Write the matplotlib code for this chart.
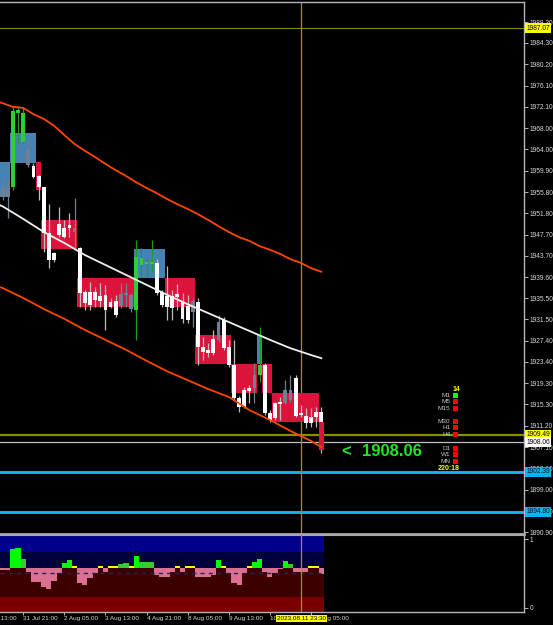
import matplotlib
matplotlib.use("Agg")
import matplotlib.pyplot as plt
from matplotlib.patches import Rectangle

plt.rcParams['font.family'] = ['Liberation Sans', 'DejaVu Sans']

# ---------------- DATA ----------------
# H4 bars, index 0 = 31 Jul 21:00
bars = list(range(-4, 59))
opens = [1954.9, 1954.9, 1956.8, 1970.9, 1970.9, 1961.0, 1960.8, 1958.9, 1956.8, 1948.0,
         1944.2, 1949.7, 1948.9, 1949.5, 1948.2, 1945.1, 1936.7, 1936.7, 1936.7, 1936.0,
         1936.2, 1934.8, 1935.0, 1934.1, 1936.2, 1933.5, 1933.3, 1941.9, 1942.1, 1942.1,
         1942.3, 1936.7, 1936.0, 1936.0, 1936.4, 1934.8, 1934.1, 1932.9, 1934.8, 1926.2,
         1925.7, 1927.8, 1927.6, 1931.4, 1926.2, 1922.8, 1916.5, 1918.0, 1918.4, 1918.4,
         1920.9, 1922.8, 1913.6, 1915.5, 1915.7, 1915.5, 1916.1, 1920.3, 1913.6, 1913.1,
         1912.9, 1913.8, 1913.8]
highs = [1958.1, 1958.1, 1972.1, 1972.3, 1971.9, 1965.8, 1961.4, 1959.1, 1956.8, 1953.5,
         1944.4, 1953.0, 1950.5, 1951.8, 1954.7, 1945.3, 1937.1, 1938.6, 1937.7, 1938.5,
         1938.1, 1935.6, 1936.2, 1938.5, 1938.5, 1936.5, 1946.7, 1945.1, 1943.2, 1946.7,
         1943.0, 1937.1, 1941.7, 1937.1, 1938.3, 1936.5, 1936.2, 1935.6, 1935.6, 1928.1,
         1927.0, 1929.5, 1932.3, 1932.0, 1927.6, 1927.6, 1916.9, 1918.6, 1919.0, 1923.2,
         1930.1, 1923.2, 1914.2, 1915.7, 1916.7, 1919.9, 1920.9, 1920.9, 1915.2, 1914.6,
         1914.6, 1914.8, 1914.8]
lows = [1954.3, 1950.9, 1956.2, 1965.4, 1965.2, 1960.6, 1958.5, 1954.3, 1944.4, 1941.3,
        1942.5, 1947.2, 1947.0, 1947.2, 1945.1, 1933.9, 1933.3, 1933.3, 1933.9, 1933.9,
        1929.5, 1933.7, 1932.0, 1933.7, 1933.9, 1932.9, 1927.6, 1939.6, 1939.6, 1940.6,
        1936.2, 1933.9, 1931.4, 1931.4, 1933.3, 1930.8, 1930.8, 1930.1, 1922.8, 1923.7,
        1924.3, 1924.7, 1927.2, 1925.7, 1922.4, 1916.1, 1913.8, 1914.6, 1915.5, 1915.5,
        1919.5, 1913.2, 1911.9, 1912.3, 1912.3, 1915.3, 1915.7, 1912.9, 1912.9, 1910.8,
        1911.0, 1911.0, 1906.0]
closes = [1956.6, 1956.8, 1971.3, 1971.5, 1965.4, 1963.9, 1958.7, 1956.8, 1948.0, 1942.8,
          1942.8, 1947.6, 1947.2, 1949.0, 1949.0, 1936.5, 1934.6, 1934.3, 1935.2, 1935.0,
          1933.3, 1933.9, 1932.3, 1936.4, 1936.5, 1936.2, 1943.4, 1943.2, 1942.5, 1942.5,
          1936.5, 1934.3, 1933.9, 1933.7, 1935.8, 1931.6, 1931.4, 1935.0, 1926.2, 1925.3,
          1925.1, 1925.1, 1931.0, 1926.0, 1922.8, 1916.5, 1914.8, 1914.8, 1917.8, 1920.9,
          1922.8, 1913.6, 1912.3, 1912.7, 1915.3, 1918.0, 1918.0, 1913.1, 1913.2, 1911.7,
          1911.7, 1912.9, 1908.06]
candle_kind = ['g', 'g', 'G', 'G', 'G', 'g', 'w', 'w', 'w', 'w',
               'w', 'w', 'w', 'w', 'g', 'w', 'w', 'w', 'w', 'w',
               'w', 'w', 'w', 'g', 'g', 'g', 'G', 'G', 'G', 'G',
               'w', 'w', 'w', 'w', 'w', 'w', 'w', 'g', 'w', 'w',
               'w', 'w', 'g', 'w', 'w', 'w', 'w', 'w', 'w', 'g',
               'G', 'w', 'w', 'w', 'w', 'g', 'g', 'w', 'w', 'w',
               'w', 'w', 'w']

# box overlay (start bar, end bar, top, bottom, direction)
box_start = [-6, -2, 3, 4, 11, 22, 28, 34, 41, 46, 47, 49, 58]
box_end = [-3, 2, 3, 10, 21, 27, 33, 40, 45, 46, 48, 57, 58]
box_top = [1961.56, 1967.10, 1961.56, 1950.48, 1939.40, 1944.94, 1939.40, 1928.52,
           1922.98, 1928.52, 1922.98, 1917.44, 1911.90]
box_bottom = [1954.88, 1961.37, 1956.22, 1944.94, 1933.87, 1939.40, 1933.87, 1922.98,
              1917.44, 1922.98, 1917.44, 1911.90, 1906.55]
box_dir = ['up', 'up', 'down', 'down', 'down', 'up', 'down', 'down',
           'down', 'up', 'down', 'down', 'down']

# channel lines
upper_bars = [-5, -4, -2, 0, 2, 4, 6, 8, 10, 12, 14, 16, 18, 20, 22, 24, 26, 28, 30, 32,
              34, 36, 38, 40, 42, 44, 46, 48, 50, 52, 54, 56, 58]
upper_vals = [1973.1, 1972.8, 1972.1, 1971.9, 1970.7, 1969.8, 1968.5, 1966.7, 1965.0,
              1963.7, 1962.5, 1961.2, 1960.0, 1958.9, 1957.7, 1956.6, 1955.6, 1954.5,
              1953.5, 1952.6, 1951.6, 1950.5, 1949.3, 1948.2, 1947.2, 1946.5, 1945.5,
              1944.8, 1944.0, 1943.0, 1942.3, 1941.3, 1940.6]
lower_bars = [-5, -4, 0, 4, 8, 12, 16, 20, 24, 28, 32, 36, 40, 44, 48, 52, 56, 58]
lower_vals = [1937.8, 1937.5, 1935.6, 1933.5, 1931.6, 1929.5, 1927.6, 1925.7, 1923.6,
              1921.6, 1919.9, 1918.2, 1916.7, 1914.2, 1912.3, 1910.2, 1908.3, 1907.1]
mid_bars = [-5, -4, 0, 4, 8, 12, 16, 20, 24, 28, 32, 36, 40, 44, 48, 52, 56, 58]
mid_vals = [1953.5, 1953.1, 1950.7, 1948.2, 1946.1, 1943.8, 1941.9, 1940.0, 1938.1,
            1936.2, 1934.4, 1932.7, 1931.0, 1929.3, 1927.6, 1926.0, 1924.7, 1924.1]

# horizontal levels
day_high = 1987.07
level_olive = 1909.49
bid = 1908.06
blue_levels = [1902.39, 1894.80]

# price scale labels
ytick_labels = ['1890.90', '1894.90', '1899.00', '1903.10', '1907.10', '1911.20', '1915.30',
                '1919.30', '1923.40', '1927.40', '1931.50', '1935.50', '1939.60', '1943.70',
                '1947.70', '1951.80', '1955.80', '1959.90', '1964.00', '1968.00', '1972.10',
                '1976.10', '1980.20', '1984.30', '1988.30']

# time axis
time_ticks = [-8, 0, 8, 16, 24, 32, 40, 48, 56]
time_labels = ['28 Jul 13:00', '31 Jul 21:00', '2 Aug 05:00', '3 Aug 13:00', '4 Aug 21:00',
               '8 Aug 05:00', '9 Aug 13:00', '10 Aug 21:00', '14 Aug 05:00']
cursor_bar = 54
cursor_minutes_into_bar = 150   # 23:30 within the 21:00 H4 bar
cursor_label = '2023.08.11 23:30'

# indicator histogram (relative to base level)
hist_vals = [-0.036, -0.036, 0.268, 0.283, 0.123, -0.065, -0.210, -0.210, -0.283, -0.312,
             -0.196, -0.080, 0.065, 0.109, 0.0, -0.225, -0.254, -0.152, -0.080, 0.0,
             -0.065, 0.0, 0.0, 0.051, 0.065, 0.0, 0.167, 0.080, 0.080, 0.080,
             -0.109, -0.138, -0.138, -0.065, 0.0, -0.065, 0.0, 0.0, -0.138, -0.138,
             -0.138, -0.109, 0.109, 0.0, -0.080, -0.225, -0.254, -0.080, 0.0, 0.080,
             0.123, -0.065, -0.138, -0.080, -0.022, 0.094, 0.051, -0.065, -0.065, -0.065,
             0.0, 0.0, -0.094]
hist_kind = ['P', 'P', 'L', 'L', 'G', 'P', 'P', 'P', 'P', 'P',
             'P', 'P', 'L', 'L', 'Y', 'P', 'P', 'P', 'P', 'Y',
             'P', 'Y', 'Y', 'G', 'G', 'Y', 'L', 'G', 'G', 'G',
             'P', 'P', 'P', 'P', 'Y', 'P', 'Y', 'Y', 'P', 'P',
             'P', 'P', 'L', 'Y', 'P', 'P', 'P', 'P', 'Y', 'L',
             'L', 'P', 'P', 'P', 'P', 'L', 'G', 'P', 'P', 'P',
             'Y', 'Y', 'P']
hist_base = 0.585
band_levels = [1.058, 0.812, 0.585, 0.159, -0.058]
band_colors = ['#00008C', '#00003C', '#3C0000', '#780000']
dash_level = 0.507

# timeframe panel
tf_labels = ['M1', 'M5', 'M15', 'M30', 'H1', 'H4', 'D1', 'W1', 'MN']
tf_status = [1, 0, 0, 0, 0, 0, 0, 0, 0]
tf_top = '14'
tf_bottom = '220:18'

# ---------------- FIGURE ----------------
W, H = 553, 625
fig = plt.figure(figsize=(W / 100, H / 100), dpi=100, facecolor='black')


def fx(px):
    return px / W


def fy(py):
    return 1 - py / H


ax = fig.add_axes([0, fy(534), fx(524), (534 - 2) / H], facecolor='black')
axi = fig.add_axes([0, fy(612), fx(524), (612 - 535) / H], facecolor='black')

x_left, x_right = -4.51, 97.43
for a in (ax, axi):
    a.set_xlim(x_left, x_right)
ax.set_ylim(1890.52, 1992.12)
axi.set_ylim(band_levels[-1], band_levels[0])

# boxes
for s, e, t, b, d in zip(box_start, box_end, box_top, box_bottom, box_dir):
    col = '#4682B4' if d == 'up' else '#DC143C'
    z = 2.6 if e == bars[-1] else 1
    ax.add_patch(Rectangle((s - 0.5, b), e - s + 1, t - b, fc=col, ec='none', zorder=z))

# candles
style = {'w': ('#FFFFFF', '#BEBEBE'), 'g': ('#708090', '#708090'), 'G': ('#32CD32', '#1E9E1E')}
bw = 0.74
for k, o, h, l, c, kind in zip(bars, opens, highs, lows, closes, candle_kind):
    body_c, wick_c = style[kind]
    ax.vlines(k, l, h, colors=wick_c, lw=0.9, zorder=2)
    lo, hi = min(o, c), max(o, c)
    ax.add_patch(Rectangle((k - bw / 2, lo), bw, max(hi - lo, 0.22), fc=body_c, ec='none', zorder=2.2))

# channel lines
ax.plot(upper_bars, upper_vals, color='#FF4500', lw=1.3, zorder=3)
ax.plot(lower_bars, lower_vals, color='#FF4500', lw=1.3, zorder=3)
ax.plot(mid_bars, mid_vals, color='#F0F0F0', lw=1.3, zorder=3)

# horizontal levels
ax.axhline(day_high, color='#8C8C00', lw=0.8, zorder=0.5)
ax.axhline(level_olive, color='#8C8C00', lw=1.6, zorder=0.5)
ax.axhline(bid, color='#C0C0C0', lw=0.9, zorder=0.5)
for lv in blue_levels:
    ax.axhline(lv, color='#0AB4F0', lw=2.1, zorder=0.5)

# cursor
cursor_x = cursor_bar - 0.5 + cursor_minutes_into_bar / 240
ax.axvline(cursor_x, color='#9B9B00', lw=0.9, zorder=0.6)
axi.axvline(cursor_x, color='#9B9B00', lw=0.9, zorder=5)

# price axis
ax.yaxis.tick_right()
ax.set_yticks([float(s) for s in ytick_labels])
ax.set_yticklabels(ytick_labels)
ax.tick_params(axis='y', colors='#B4B4B4', labelcolor='#D8D8D8', length=3, width=0.7,
               labelsize=4.8, pad=1.2)
ax.set_xticks([])
ax.spines['left'].set_visible(False)
ax.spines['top'].set_color('#B4B4B4')
ax.spines['top'].set_linewidth(1)
ax.spines['right'].set_color('#B4B4B4')
ax.spines['right'].set_linewidth(1)
ax.spines['bottom'].set_color('#A8A8A8')
ax.spines['bottom'].set_linewidth(2)

# price label boxes
ytr = ax.get_yaxis_transform()
box_labels = [(day_high, '#FFFF00', 'black'), (level_olive, '#FFFF00', 'black'),
              (bid, '#FFFFFF', 'black'), (blue_levels[0], '#0AB4F0', '#001030'),
              (blue_levels[1], '#0AB4F0', '#001030')]
for val, fc, tc in box_labels:
    ax.text(1.004, val, f'{val:.2f}', transform=ytr, ha='left', va='center', fontsize=4.8,
            color=tc, clip_on=False, zorder=10,
            bbox=dict(boxstyle='square,pad=0.22', fc=fc, ec='none'))

# indicator panel
last = bars[-1] + 0.5
for i, col in enumerate(band_colors):
    axi.add_patch(Rectangle((x_left, band_levels[i + 1]), last - x_left,
                            band_levels[i] - band_levels[i + 1], fc=col, ec='none', zorder=0.5))
hcol = {'P': '#DB7093', 'L': '#00FF00', 'G': '#32CD32', 'Y': '#FFFF00'}
for k, v, kind in zip(bars, hist_vals, hist_kind):
    if kind == 'Y':
        axi.add_patch(Rectangle((k - 0.5, hist_base - 0.012), 1.0, 0.034, fc=hcol['Y'],
                                ec='none', zorder=2))
    else:
        axi.add_patch(Rectangle((k - 0.5, hist_base), 1.0, v, fc=hcol[kind], ec='none', zorder=2))
axi.hlines(dash_level, x_left, last, colors='#26264E', linestyles=(0, (3, 3)), lw=1.0, zorder=3)

axi.yaxis.tick_right()
axi.set_yticks([0, 1])
axi.set_yticklabels(['0', '1'])
axi.tick_params(axis='y', colors='#B4B4B4', labelcolor='#D8D8D8', length=3, width=0.7,
                labelsize=4.8, pad=1.2)
axi.set_xticks([t for t in time_ticks if x_left <= t <= x_right])
axi.set_xticklabels([])
axi.tick_params(axis='x', colors='#B4B4B4', length=2, width=0.7)
for t, lab in zip(time_ticks, time_labels):
    axi.annotate(lab, xy=(t, 0), xycoords=('data', 'axes fraction'), xytext=(0, -2.6),
                 textcoords='offset points', ha='left', va='top', fontsize=4.6,
                 color='#D8D8D8', annotation_clip=False)
axi.spines['left'].set_visible(False)
axi.spines['top'].set_color('#A8A8A8')
for sp in ('right', 'bottom'):
    axi.spines[sp].set_color('#B4B4B4')
    axi.spines[sp].set_linewidth(1)

# cursor time label
fig.text(fx(301.5), fy(618.5), cursor_label, ha='center', va='center', fontsize=4.6,
         color='black', bbox=dict(boxstyle='square,pad=0.2', fc='#FFFF00', ec='none'))

# big bid text
fig.text(fx(341), fy(452), '<', ha='left', va='center', fontsize=12, fontweight='bold',
         color='#22E622')
fig.text(fx(362), fy(452), f'{bid:.2f}', ha='left', va='center', fontsize=12,
         fontweight='bold', color='#22E622')

# timeframe status panel
fig.text(fx(456), fy(389.5), tf_top, ha='center', va='center', fontsize=5,
         fontweight='bold', color='#FFFF00')
row_y = []
for g, start in enumerate([395.5, 421.5, 448.5]):
    for r in range(3):
        row_y.append(start + r * 6.4)
for lab, st, yy in zip(tf_labels, tf_status, row_y):
    fig.text(fx(450.5), fy(yy), lab, ha='right', va='center', fontsize=4.6, color='#C8C8C8')
    fig.patches.append(Rectangle((fx(453), fy(yy + 2.5)), 5 / W, 5 / H,
                                 transform=fig.transFigure, fc='#00FF00' if st else '#FF0000',
                                 ec='none'))
fig.text(fx(448.5), fy(468), tf_bottom, ha='center', va='center', fontsize=5,
         fontweight='bold', color='#FFFF00')

fig.savefig('out.png', dpi=100, facecolor='black')
